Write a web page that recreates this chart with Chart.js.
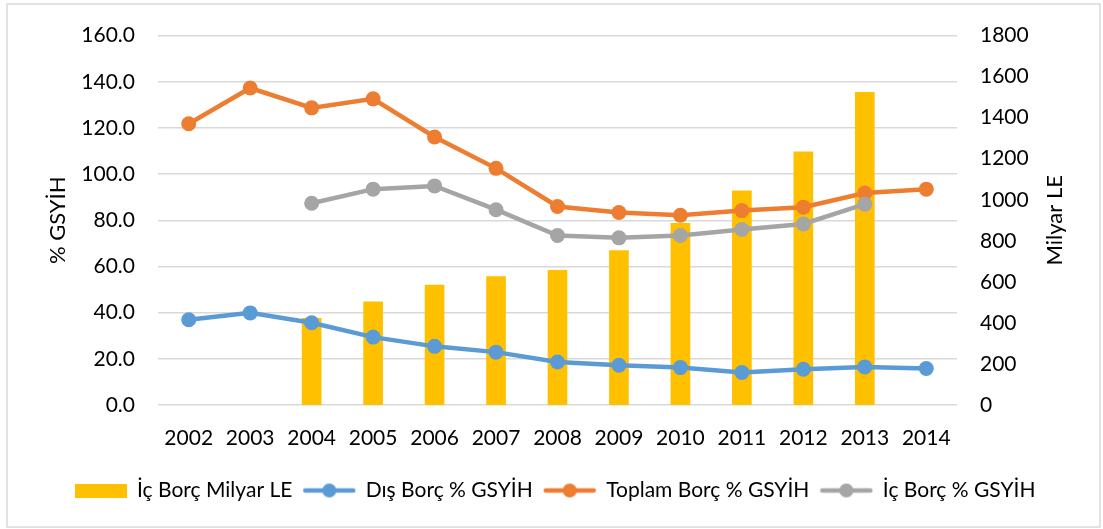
<!DOCTYPE html>
<html>
<head>
<meta charset="utf-8">
<script src="https://cdn.jsdelivr.net/npm/chart.js@4.4.1/dist/chart.umd.min.js"></script>
<style>
  html, body { margin: 0; padding: 0; background: #fff; }
  #wrap { width: 1103px; height: 529px; }
</style>
</head>
<body>
<div id="wrap"><canvas id="chart" width="1103" height="529"></canvas></div>
<script>
// values
let years = ["2002", "2003", "2004", "2005", "2006", "2007", "2008", "2009", "2010", "2011", "2012", "2013", "2014"];
let icBorcMilyar = [null, null, 422, 503, 584, 626, 656, 753, 885, 1044, 1234, 1524, null];
let disBorcPct = [36.9, 39.9, 35.6, 29.4, 25.4, 22.9, 18.6, 17.2, 16.2, 14.1, 15.5, 16.5, 15.8];
let toplamBorcPct = [121.8, 137.3, 128.7, 132.6, 116.1, 102.5, 86.0, 83.4, 82.2, 84.2, 85.7, 91.8, 93.5];
let icBorcPct = [null, null, 87.4, 93.5, 94.9, 84.6, 73.4, 72.4, 73.4, 76.0, 78.4, 87.0, null];

let YELLOW = "#FFC000";
let BLUE = "#5B9BD5";
let ORANGE = "#ED7D31";
let GRAY = "#A5A5A5";
let FONT = "Lato, 'Open Sans', sans-serif";
let FSIZE = 21;
let TSIZE = 22;

// small pictures for the legend: a filled box, and a line with a dot
function boxIcon(color) {
  let c = document.createElement("canvas");
  c.width = 52; c.height = 14;
  let x = c.getContext("2d");
  x.fillStyle = color;
  x.fillRect(0, 0, 52, 14);
  return c;
}

function lineIcon(color) {
  let c = document.createElement("canvas");
  c.width = 54; c.height = 16;
  let x = c.getContext("2d");
  x.strokeStyle = color;
  x.lineWidth = 4.5;
  x.lineCap = "round";
  x.beginPath();
  x.moveTo(3, 8);
  x.lineTo(51, 8);
  x.stroke();
  x.fillStyle = color;
  x.beginPath();
  x.arc(27, 8, 7, 0, Math.PI * 2);
  x.fill();
  return c;
}

let icons = [boxIcon(YELLOW), lineIcon(BLUE), lineIcon(ORANGE), lineIcon(GRAY)];

// the light frame round the whole chart, and the right axis title
// (chart.js turns a right-hand title the other way, so it is drawn here)
let framePlugin = {
  id: "frame",
  beforeDraw(chart) {
    let ctx = chart.ctx;
    ctx.save();
    ctx.fillStyle = "#fff";
    ctx.fillRect(0, 0, chart.width, chart.height);
    ctx.strokeStyle = "#d9d9d9";
    ctx.lineWidth = 1.5;
    ctx.strokeRect(7, 4, 1093, 523);
    ctx.restore();
  },
  afterDraw(chart) {
    let ctx = chart.ctx;
    let s = chart.scales.y2;
    let area = chart.chartArea;
    ctx.save();
    ctx.translate(s.right - 15, (area.top + area.bottom) / 2);
    ctx.rotate(-Math.PI / 2);
    ctx.fillStyle = "#000";
    ctx.font = TSIZE + "px " + FONT;
    ctx.textAlign = "center";
    ctx.textBaseline = "middle";
    ctx.fillText("Milyar LE", 0, 0);
    ctx.restore();
  }
};

function lineSet(label, data, color, order) {
  return {
    type: "line",
    label: label,
    data: data,
    yAxisID: "y",
    borderColor: color,
    backgroundColor: color,
    borderWidth: 4.5,
    pointRadius: 7.5,
    pointHoverRadius: 7.5,
    pointBorderWidth: 0,
    pointBackgroundColor: color,
    tension: 0,
    spanGaps: false,
    order: order
  };
}

let ctx = document.getElementById("chart").getContext("2d");
new Chart(ctx, {
  data: {
    labels: years,
    datasets: [
      {
        type: "bar",
        label: "İç Borç Milyar LE",
        data: icBorcMilyar,
        yAxisID: "y2",
        backgroundColor: YELLOW,
        barThickness: 19,
        order: 4
      },
      lineSet("Dış Borç % GSYİH", disBorcPct, BLUE, 3),
      lineSet("Toplam Borç % GSYİH", toplamBorcPct, ORANGE, 2),
      lineSet("İç Borç % GSYİH", icBorcPct, GRAY, 1)
    ]
  },
  options: {
    responsive: false,
    animation: false,
    layout: { padding: { left: 40, right: 33, top: 33, bottom: 18 } },
    plugins: {
      tooltip: { enabled: false },
      legend: {
        position: "bottom",
        labels: {
          usePointStyle: true,
          pointStyleWidth: 52,
          padding: 11,
          color: "#000",
          font: { family: FONT, size: FSIZE },
          generateLabels(chart) {
            return chart.data.datasets.map((ds, i) => ({
              text: ds.label,
              pointStyle: icons[i],
              fillStyle: ds.backgroundColor,
              strokeStyle: ds.backgroundColor,
              lineWidth: 0,
              hidden: !chart.isDatasetVisible(i),
              datasetIndex: i,
              fontColor: "#000"
            }));
          }
        }
      }
    },
    scales: {
      x: {
        grid: { display: false, drawTicks: false },
        border: { display: false },
        ticks: { color: "#000", padding: 21, font: { family: FONT, size: FSIZE } },
        afterFit(scale) { scale.height = 64; }
      },
      y: {
        position: "left",
        min: 0,
        max: 160,
        grid: { color: "#d9d9d9", lineWidth: 1.5, drawTicks: false },
        border: { display: false },
        ticks: {
          stepSize: 20,
          padding: 23,
          color: "#000",
          font: { family: FONT, size: FSIZE },
          callback: v => v.toFixed(1)
        },
        title: {
          display: true,
          text: "% GSYİH",
          color: "#000",
          padding: { top: 5, bottom: 0 },
          font: { family: FONT, size: TSIZE }
        },
        afterFit(scale) { scale.width = 158 - 40; }
      },
      y2: {
        position: "right",
        min: 0,
        max: 1800,
        grid: { display: false, drawTicks: false },
        border: { display: false },
        ticks: {
          stepSize: 200,
          padding: 23,
          color: "#000",
          font: { family: FONT, size: FSIZE },
          callback: v => String(v)
        },
        afterFit(scale) { scale.width = 1103 - 957 - 33; }
      }
    }
  },
  plugins: [framePlugin]
});
</script>
</body>
</html>
